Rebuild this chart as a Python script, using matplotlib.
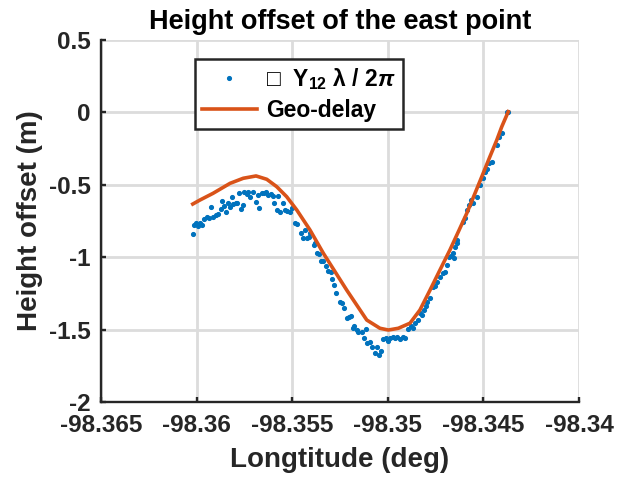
import matplotlib
matplotlib.use("Agg")
import matplotlib.pyplot as plt
import numpy as np

plt.rcParams["font.family"] = ["Liberation Sans", "DejaVu Sans"]
plt.rcParams["font.weight"] = "bold"
plt.rcParams["axes.unicode_minus"] = False
plt.rcParams["mathtext.fontset"] = "custom"
plt.rcParams["mathtext.rm"] = "Liberation Sans:bold"
plt.rcParams["mathtext.bf"] = "Liberation Sans:bold"
plt.rcParams["mathtext.it"] = "Liberation Sans:italic:bold"

# phase-derived height offset (blue dots)
lon_obs = [
    -98.36020, -98.36014, -98.36003, -98.35991, -98.35982, -98.35973, -98.35961, -98.35947,
    -98.35934, -98.35925, -98.35913, -98.35899, -98.35887, -98.35874, -98.35866, -98.35857,
    -98.35846, -98.35836, -98.35825, -98.35816, -98.35808, -98.35796, -98.35787, -98.35778,
    -98.35769, -98.35759, -98.35751, -98.35738, -98.35730, -98.35721, -98.35707, -98.35689,
    -98.35680, -98.35672, -98.35660, -98.35648, -98.35637, -98.35625, -98.35612, -98.35602,
    -98.35594, -98.35581, -98.35573, -98.35564, -98.35547, -98.35538, -98.35526, -98.35512,
    -98.35501, -98.35485, -98.35473, -98.35456, -98.35445, -98.35433, -98.35424, -98.35411,
    -98.35407, -98.35386, -98.35381, -98.35369, -98.35360, -98.35351, -98.35341, -98.35325,
    -98.35311, -98.35299, -98.35290, -98.35281, -98.35271, -98.35250, -98.35238, -98.35228,
    -98.35215, -98.35203, -98.35194, -98.35184, -98.35175, -98.35163, -98.35154, -98.35137,
    -98.35125, -98.35114, -98.35107, -98.35093, -98.35084, -98.35067, -98.35058, -98.35048,
    -98.35038, -98.35024, -98.35011, -98.35001, -98.34989, -98.34974, -98.34962, -98.34950,
    -98.34936, -98.34922, -98.34910, -98.34893, -98.34880, -98.34867, -98.34856, -98.34844,
    -98.34832, -98.34823, -98.34811, -98.34800, -98.34793, -98.34779, -98.34762, -98.34753,
    -98.34741, -98.34727, -98.34713, -98.34701, -98.34692, -98.34678, -98.34670, -98.34657,
    -98.34652, -98.34647, -98.34640, -98.34637, -98.34608, -98.34596, -98.34587, -98.34574,
    -98.34566, -98.34556, -98.34535, -98.34518, -98.34504, -98.34492, -98.34483, -98.34469,
    -98.34457, -98.34430, -98.34417, -98.34401, -98.34378, -98.34370,
]
h_obs = [
    -0.840, -0.778, -0.762, -0.785, -0.762, -0.778, -0.738, -0.724,
    -0.731, -0.651, -0.720, -0.709, -0.702, -0.669, -0.610, -0.644,
    -0.686, -0.624, -0.651, -0.582, -0.633, -0.624, -0.628, -0.555,
    -0.669, -0.640, -0.552, -0.566, -0.552, -0.582, -0.552, -0.617,
    -0.573, -0.660, -0.555, -0.555, -0.552, -0.570, -0.566, -0.577,
    -0.624, -0.674, -0.575, -0.686, -0.628, -0.674, -0.681, -0.686,
    -0.662, -0.766, -0.771, -0.835, -0.865, -0.812, -0.865, -0.863,
    -0.835, -0.916, -0.900, -0.973, -0.980, -1.026, -1.026, -1.061,
    -1.095, -1.100, -1.153, -1.192, -1.245, -1.307, -1.318, -1.349,
    -1.422, -1.415, -1.406, -1.491, -1.473, -1.503, -1.515, -1.515,
    -1.560, -1.498, -1.595, -1.584, -1.618, -1.664, -1.618, -1.675,
    -1.648, -1.567, -1.560, -1.577, -1.560, -1.549, -1.560, -1.549,
    -1.567, -1.549, -1.560, -1.498, -1.475, -1.491, -1.456, -1.434,
    -1.383, -1.399, -1.365, -1.337, -1.307, -1.284, -1.204, -1.199,
    -1.169, -1.135, -1.107, -1.100, -1.054, -0.997, -0.992, -0.973,
    -1.008, -0.928, -0.904, -0.881, -0.755, -0.731, -0.674, -0.640,
    -0.605, -0.628, -0.582, -0.501, -0.455, -0.410, -0.393, -0.352,
    -0.340, -0.225, -0.168, -0.140, 0.005, 0.005,
]

# geo-delay model (orange line)
lon_geo = [
    -98.36020, -98.35982, -98.35914, -98.35825, -98.35756, -98.35689, -98.35633, -98.35581,
    -98.35529, -98.35476, -98.35407, -98.35337, -98.35276, -98.35215, -98.35145, -98.35110,
    -98.35041, -98.34997, -98.34945, -98.34884, -98.34832, -98.34779, -98.34727, -98.34675,
    -98.34631, -98.34587, -98.34544, -98.34501, -98.34466, -98.34430, -98.34404, -98.34370,
]
h_geo = [
    -0.633, -0.605, -0.559, -0.490, -0.455, -0.439, -0.462, -0.513,
    -0.582, -0.674, -0.812, -0.973, -1.100, -1.227, -1.365, -1.434,
    -1.491, -1.503, -1.491, -1.456, -1.365, -1.227, -1.088, -0.950,
    -0.824, -0.697, -0.559, -0.420, -0.306, -0.191, -0.099, 0.005,
]

xticks = [-98.365, -98.36, -98.355, -98.35, -98.345, -98.34]
xlabels = ["-98.365", "-98.36", "-98.355", "-98.35", "-98.345", "-98.34"]
yticks = [-2, -1.5, -1, -0.5, 0, 0.5]
ylabels = ["-2", "-1.5", "-1", "-0.5", "0", "0.5"]

fig = plt.figure(figsize=(6.18, 4.79), dpi=100)
ax = fig.add_axes([0.1634, 0.1608, 0.7735, 0.7557])

ax.plot(lon_obs, h_obs, linestyle="none", marker="o", markersize=2.7,
        color="#0072BD", label="\u25a1  Y$_{12}$ λ / 2$\\pi$")
ax.plot(lon_geo, h_geo, color="#D95319", linewidth=2.6, label="Geo-delay")

ax.set_xlim(-98.365, -98.34)
ax.set_ylim(-2, 0.5)
ax.set_xticks(xticks)
ax.set_xticklabels(xlabels)
ax.set_yticks(yticks)
ax.set_yticklabels(ylabels)

ax.grid(True, color="#dcdcdc", linewidth=2.0)
ax.set_axisbelow(True)
for s in ["top", "right"]:
    ax.spines[s].set_visible(False)
for s in ["left", "bottom"]:
    ax.spines[s].set_color("#262626")
    ax.spines[s].set_linewidth(1.7)
ax.tick_params(direction="in", length=3.5, width=1.7, color="#262626",
               labelsize=17.5, labelcolor="#262626")
ax.tick_params(axis="x", pad=8.5)
ax.tick_params(axis="y", pad=7.5)

ax.set_title("Height offset of the east point", fontsize=19.5, fontweight="bold", pad=8)
ax.set_xlabel("Longtitude (deg)", fontsize=20, fontweight="bold", color="#262626",
              labelpad=7)
ax.set_ylabel("Height offset (m)", fontsize=20, fontweight="bold", color="#262626",
              labelpad=4)

leg = ax.legend(loc="upper left", bbox_to_anchor=(0.1967, 0.9475), borderaxespad=0,
                fancybox=False, framealpha=1, edgecolor="#262626", fontsize=16.5,
                handlelength=2.4, handletextpad=0.4, numpoints=1, borderpad=0.3,
                labelspacing=0.3)
leg.get_frame().set_linewidth(1.8)

fig.savefig("out.png", dpi=100)
